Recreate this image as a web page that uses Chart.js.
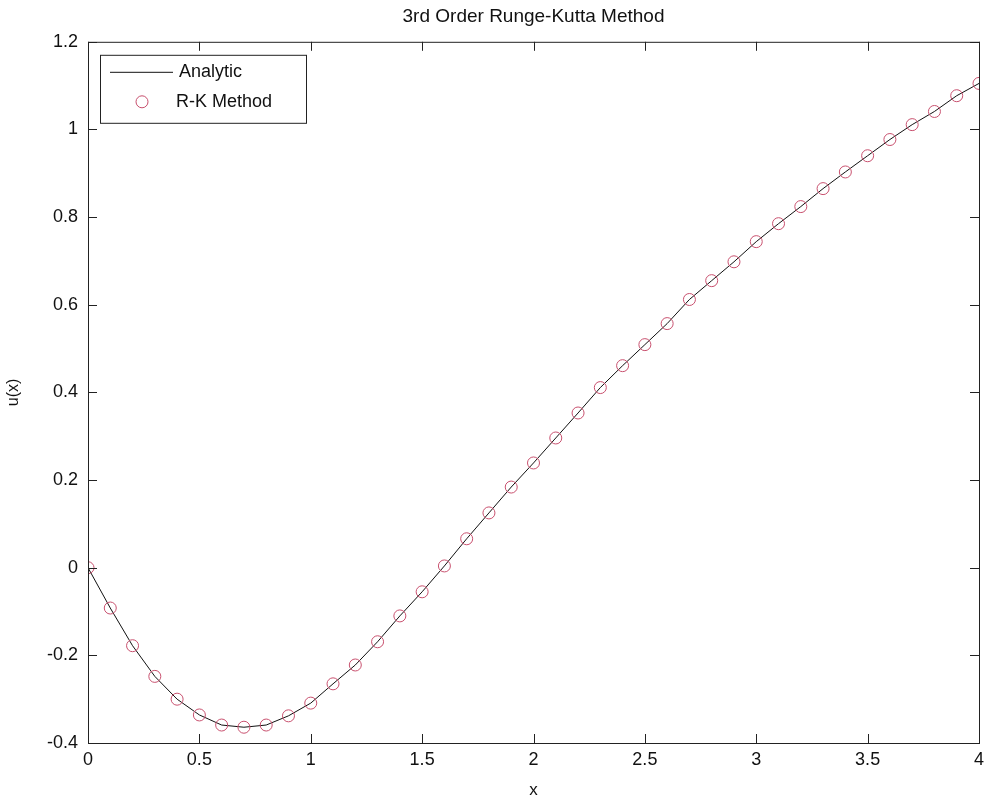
<!DOCTYPE html>
<html>
<head>
<meta charset="utf-8">
<script src="https://cdn.jsdelivr.net/npm/chart.js@4/dist/chart.umd.min.js"></script>
<style>
  html, body { margin: 0; padding: 0; background: #fff; }
  #wrap { width: 986px; height: 801px; }
</style>
</head>
<body>
<div id="wrap"><canvas id="rkChart" width="986" height="801"></canvas></div>
<script>
// x sample points (step 0.1)
const xValues = [0, 0.1, 0.2, 0.3, 0.4, 0.5, 0.6, 0.7, 0.8, 0.9, 1.0,
  1.1, 1.2, 1.3, 1.4, 1.5, 1.6, 1.7, 1.8, 1.9, 2.0,
  2.1, 2.2, 2.3, 2.4, 2.5, 2.6, 2.7, 2.8, 2.9, 3.0,
  3.1, 3.2, 3.3, 3.4, 3.5, 3.6, 3.7, 3.8, 3.9, 4.0];

// analytic solution u(x)
const analyticValues = [0, -0.092, -0.178, -0.248, -0.300, -0.336, -0.359, -0.364, -0.359, -0.338, -0.309,
  -0.265, -0.222, -0.169, -0.110, -0.055, 0.004, 0.066, 0.125, 0.184, 0.239,
  0.296, 0.353, 0.411, 0.461, 0.509, 0.557, 0.612, 0.655, 0.698, 0.744,
  0.785, 0.824, 0.865, 0.903, 0.940, 0.977, 1.011, 1.041, 1.077, 1.105];

// 3rd order R-K results (sit on the analytic curve)
const rkValues = [0, -0.092, -0.178, -0.248, -0.300, -0.336, -0.359, -0.364, -0.359, -0.338, -0.309,
  -0.265, -0.222, -0.169, -0.110, -0.055, 0.004, 0.066, 0.125, 0.184, 0.239,
  0.296, 0.353, 0.411, 0.461, 0.509, 0.557, 0.612, 0.655, 0.698, 0.744,
  0.785, 0.824, 0.865, 0.903, 0.940, 0.977, 1.011, 1.041, 1.077, 1.105];

const xTicks = [0, 0.5, 1, 1.5, 2, 2.5, 3, 3.5, 4];
const yTicks = [-0.4, -0.2, 0, 0.2, 0.4, 0.6, 0.8, 1, 1.2];

const FONT = "'Liberation Sans', Arial, sans-serif";
const RK_COLOR = "rgb(200, 80, 110)";

// matlab-like box with inward tick marks on all four sides
const boxPlugin = {
  id: "boxTicks",
  afterDraw(chart) {
    const { ctx, chartArea: a, scales } = chart;
    const len = 9;
    ctx.save();
    ctx.strokeStyle = "#222";
    ctx.lineWidth = 1;
    ctx.strokeRect(a.left + 0.5, a.top + 0.5, a.right - a.left, a.bottom - a.top);
    ctx.beginPath();
    xTicks.forEach((v) => {
      const px = Math.round(scales.x.getPixelForValue(v)) + 0.5;
      ctx.moveTo(px, a.bottom); ctx.lineTo(px, a.bottom - len);
      ctx.moveTo(px, a.top); ctx.lineTo(px, a.top + len);
    });
    yTicks.forEach((v) => {
      const py = Math.round(scales.y.getPixelForValue(v)) + 0.5;
      ctx.moveTo(a.left, py); ctx.lineTo(a.left + len, py);
      ctx.moveTo(a.right, py); ctx.lineTo(a.right - len, py);
    });
    ctx.stroke();
    ctx.restore();
  },
};

// legend drawn inside the plot, top-left
const insideLegend = {
  id: "insideLegend",
  afterDraw(chart) {
    const { ctx, chartArea: a } = chart;
    const ds = chart.data.datasets;
    const x0 = a.left + 12, y0 = a.top + 13, w = 206, h = 68;
    ctx.save();
    ctx.fillStyle = "#fff";
    ctx.fillRect(x0, y0, w, h);
    ctx.strokeStyle = "#222";
    ctx.lineWidth = 1;
    ctx.strokeRect(x0 + 0.5, y0 + 0.5, w, h);

    ctx.font = "18px " + FONT;
    ctx.fillStyle = "#111";
    ctx.textBaseline = "middle";

    // row 1: line sample
    ctx.strokeStyle = ds[0].borderColor;
    ctx.beginPath();
    ctx.moveTo(x0 + 10, y0 + 17.5);
    ctx.lineTo(x0 + 73, y0 + 17.5);
    ctx.stroke();
    ctx.fillText(ds[0].label, x0 + 79, y0 + 17);

    // row 2: circle marker
    ctx.strokeStyle = ds[1].borderColor;
    ctx.beginPath();
    ctx.arc(x0 + 42, y0 + 47, 6, 0, Math.PI * 2);
    ctx.stroke();
    ctx.fillText(ds[1].label, x0 + 76, y0 + 47);
    ctx.restore();
  },
};

const ctx = document.getElementById("rkChart").getContext("2d");

new Chart(ctx, {
  type: "line",
  data: {
    datasets: [
      {
        label: "Analytic",
        data: xValues.map((x, i) => ({ x, y: analyticValues[i] })),
        borderColor: "#111",
        borderWidth: 1,
        pointRadius: 0,
        fill: false,
        order: 2,
      },
      {
        label: "R-K Method",
        data: xValues.map((x, i) => ({ x, y: rkValues[i] })),
        showLine: false,
        borderColor: RK_COLOR,
        backgroundColor: "rgba(0,0,0,0)",
        pointStyle: "circle",
        pointRadius: 6,
        pointBorderWidth: 1,
        order: 1,
      },
    ],
  },
  options: {
    responsive: false,
    animation: false,
    layout: { padding: { left: 0, right: 3, top: 0, bottom: 0 } },
    plugins: {
      legend: { display: false },
      tooltip: { enabled: false },
      title: {
        display: true,
        text: "3rd Order Runge-Kutta Method",
        fullSize: false,
        color: "#111",
        font: { family: FONT, size: 19, weight: "normal", lineHeight: 1.2 },
        padding: { top: 5, bottom: 14 },
      },
    },
    scales: {
      x: {
        type: "linear",
        min: 0,
        max: 4,
        afterBuildTicks: (s) => { s.ticks = xTicks.map((v) => ({ value: v })); },
        afterFit: (s) => { s.height = 58; s.paddingLeft = 0; s.paddingRight = 0; },
        grid: { display: false, drawTicks: false },
        border: { display: false },
        ticks: {
          color: "#111",
          padding: 6,
          maxRotation: 0,
          font: { family: FONT, size: 18 },
          callback: (v) => String(v),
        },
        title: {
          display: true,
          text: "x",
          color: "#111",
          font: { family: FONT, size: 17 },
          padding: { top: 0, bottom: 0 },
        },
      },
      y: {
        type: "linear",
        min: -0.4,
        max: 1.2,
        afterBuildTicks: (s) => { s.ticks = yTicks.map((v) => ({ value: v })); },
        afterFit: (s) => { s.width = 88; },
        grid: { display: false, drawTicks: false },
        border: { display: false },
        ticks: {
          color: "#111",
          padding: 10,
          font: { family: FONT, size: 18 },
          callback: (v) => String(v),
        },
        title: {
          display: true,
          text: "u(x)",
          color: "#111",
          font: { family: FONT, size: 16 },
          padding: { top: 4, bottom: 0 },
        },
      },
    },
  },
  plugins: [boxPlugin, insideLegend],
});
</script>
</body>
</html>
